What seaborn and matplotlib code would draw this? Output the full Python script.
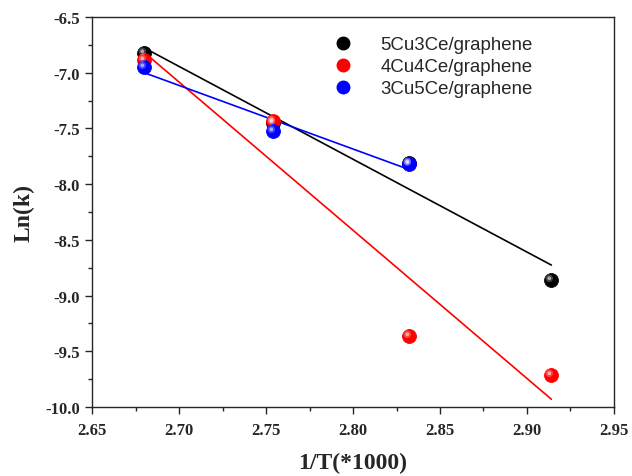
import numpy as np
import pandas as pd
import matplotlib
matplotlib.use("Agg")
import matplotlib.pyplot as plt
from matplotlib.path import Path
from matplotlib.lines import Line2D
import seaborn as sns

# data
inv_T = [2.680, 2.754, 2.832, 2.914]
lnk_5cu3ce = [-6.82, -7.45, -7.81, -8.86]
lnk_4cu4ce = [-6.89, -7.43, -9.36, -9.71]
lnk_3cu5ce = [-6.95, -7.52, -7.82]
samples = ["5Cu3Ce/graphene", "4Cu4Ce/graphene", "3Cu5Ce/graphene"]
colors = ["#000000", "#ff0000", "#0000ff"]
x_ticks = [2.65, 2.70, 2.75, 2.80, 2.85, 2.90, 2.95]
y_ticks = [-6.5, -7.0, -7.5, -8.0, -8.5, -9.0, -9.5, -10.0]

series = [lnk_5cu3ce, lnk_4cu4ce, lnk_3cu5ce]
frames = []
for name, vals in zip(samples, series):
    frames.append(pd.DataFrame({"x": inv_T[:len(vals)], "y": vals, "sample": name}))
df = pd.concat(frames, ignore_index=True)

sns.set_style("ticks")
plt.rcParams["font.family"] = ["Liberation Serif", "DejaVu Serif"]

fig = plt.figure(figsize=(6.32, 4.77), dpi=100)
ax = fig.add_axes([0.1456, 0.1447, 0.8259, 0.8176])

# linear fits (least squares, drawn over the data range)
for name, c in zip(samples, colors):
    d = df[df["sample"] == name]
    sns.regplot(data=d, x="x", y="y", ax=ax, scatter=False, ci=None,
                truncate=True, color=c, line_kws={"lw": 1.2, "zorder": 2})

# sphere-like markers: body + soft highlight toward upper left
def highlight(r):
    c = Path.circle(center=(-0.15, 0.15), radius=r)
    return Path(np.vstack([c.vertices, [[-0.5, -0.5], [0.5, 0.5]]]),
                np.concatenate([c.codes, [Path.MOVETO, Path.MOVETO]]))

for name, c in zip(samples, colors):
    d = df[df["sample"] == name]
    sns.scatterplot(data=d, x="x", y="y", ax=ax, color=c, s=100,
                    edgecolor=c, linewidth=0.6, zorder=3, legend=False)
    ax.plot(d["x"], d["y"], ls="none", marker=highlight(0.26), ms=10.5,
            mfc="white", mec="none", alpha=0.25, zorder=4)
    ax.plot(d["x"], d["y"], ls="none", marker=highlight(0.13), ms=10.5,
            mfc="white", mec="none", alpha=0.55, zorder=4)

ax.set_xlim(2.65, 2.95)
ax.set_ylim(-10.0, -6.5)
ax.set_xticks(x_ticks)
ax.set_yticks(y_ticks)
ax.set_xticklabels([f"{v:.2f}" for v in x_ticks])
ax.set_yticklabels([f"{v:.1f}" for v in y_ticks])
ax.xaxis.set_minor_locator(matplotlib.ticker.MultipleLocator(0.025))
ax.yaxis.set_minor_locator(matplotlib.ticker.MultipleLocator(0.25))
ax.tick_params(which="major", direction="out", length=5, width=1,
               labelsize=12, top=False, right=False)
ax.tick_params(which="minor", direction="out", length=3, width=1,
               top=False, right=False)
ax.tick_params(axis="x", which="major", pad=6)
for lab in ax.get_xticklabels() + ax.get_yticklabels():
    lab.set_fontweight("bold")
for sp in ax.spines.values():
    sp.set_linewidth(1.0)
    sp.set_visible(True)

ax.set_xlabel("1/T(*1000)", fontsize=17, fontweight="bold", labelpad=10)
ax.set_ylabel("Ln(k)", fontsize=17, fontweight="bold", labelpad=8)

handles = [Line2D([], [], ls="none", marker="o", ms=9, mfc=c, mec=c)
           for c in colors]
leg = ax.legend(handles, samples, loc="upper left", frameon=False,
                prop={"family": "Liberation Sans", "size": 13.4},
                handletextpad=1.0, labelspacing=0.27, borderpad=0,
                borderaxespad=0, bbox_to_anchor=(0.445, 0.951))

fig.savefig("out.png", dpi=100)
